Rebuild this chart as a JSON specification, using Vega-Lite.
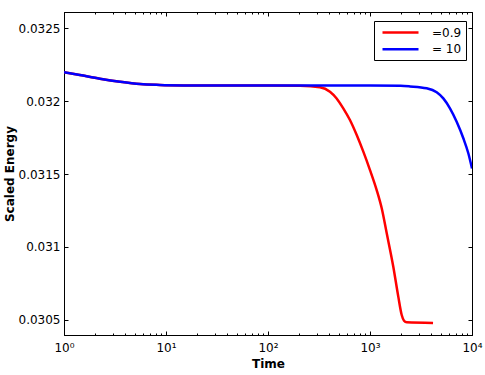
{
  "$schema": "https://vega.github.io/schema/vega-lite/v6.json",
  "width": 408,
  "height": 323,
  "autosize": {"type": "none"},
  "padding": {"left": 64, "top": 12, "right": 13, "bottom": 40},
  "background": "white",
  "config": {
    "font": "DejaVu Sans",
    "view": {"stroke": "black", "strokeWidth": 1},
    "axis": {
      "grid": false,
      "domainColor": "black",
      "tickColor": "black",
      "labelColor": "black",
      "titleColor": "black",
      "labelFontSize": 12,
      "titleFontSize": 12,
      "titleFontWeight": "bold",
      "labelFont": "DejaVu Sans",
      "titleFont": "DejaVu Sans"
    }
  },
  "data": {
    "values": [
      {"t": 1, "e": 0.032197, "s": "=0.9"},
      {"t": 1.43, "e": 0.032178, "s": "=0.9"},
      {"t": 2.25, "e": 0.032153, "s": "=0.9"},
      {"t": 3.54, "e": 0.032132, "s": "=0.9"},
      {"t": 5.56, "e": 0.032116, "s": "=0.9"},
      {"t": 8.7, "e": 0.03211, "s": "=0.9"},
      {"t": 15, "e": 0.032107, "s": "=0.9"},
      {"t": 30, "e": 0.032106, "s": "=0.9"},
      {"t": 100, "e": 0.032106, "s": "=0.9"},
      {"t": 206, "e": 0.032104, "s": "=0.9"},
      {"t": 323, "e": 0.032094, "s": "=0.9"},
      {"t": 405, "e": 0.032064, "s": "=0.9"},
      {"t": 471, "e": 0.032018, "s": "=0.9"},
      {"t": 547, "e": 0.03195, "s": "=0.9"},
      {"t": 636, "e": 0.03187, "s": "=0.9"},
      {"t": 741, "e": 0.031767, "s": "=0.9"},
      {"t": 860, "e": 0.031653, "s": "=0.9"},
      {"t": 1000, "e": 0.031527, "s": "=0.9"},
      {"t": 1163, "e": 0.03139, "s": "=0.9"},
      {"t": 1303, "e": 0.031265, "s": "=0.9"},
      {"t": 1459, "e": 0.031094, "s": "=0.9"},
      {"t": 1692, "e": 0.030865, "s": "=0.9"},
      {"t": 1894, "e": 0.03066, "s": "=0.9"},
      {"t": 2046, "e": 0.030534, "s": "=0.9"},
      {"t": 2155, "e": 0.030495, "s": "=0.9"},
      {"t": 2291, "e": 0.030484, "s": "=0.9"},
      {"t": 4150, "e": 0.03048, "s": "=0.9"},
      {"t": 1, "e": 0.032197, "s": "= 10"},
      {"t": 1.43, "e": 0.032178, "s": "= 10"},
      {"t": 2.25, "e": 0.032153, "s": "= 10"},
      {"t": 3.54, "e": 0.032132, "s": "= 10"},
      {"t": 5.56, "e": 0.032116, "s": "= 10"},
      {"t": 8.7, "e": 0.03211, "s": "= 10"},
      {"t": 15, "e": 0.032107, "s": "= 10"},
      {"t": 30, "e": 0.032106, "s": "= 10"},
      {"t": 100, "e": 0.032106, "s": "= 10"},
      {"t": 1000, "e": 0.032106, "s": "= 10"},
      {"t": 2000, "e": 0.032104, "s": "= 10"},
      {"t": 2466, "e": 0.0321, "s": "= 10"},
      {"t": 3595, "e": 0.032087, "s": "= 10"},
      {"t": 4506, "e": 0.03206, "s": "= 10"},
      {"t": 5232, "e": 0.032018, "s": "= 10"},
      {"t": 6081, "e": 0.03195, "s": "= 10"},
      {"t": 7075, "e": 0.031858, "s": "= 10"},
      {"t": 8222, "e": 0.031745, "s": "= 10"},
      {"t": 9203, "e": 0.031642, "s": "= 10"},
      {"t": 10000, "e": 0.031538, "s": "= 10"}
    ]
  },
  "layer": [
    {
      "mark": {"type": "line", "strokeWidth": 2.5, "interpolate": "monotone", "clip": true},
      "encoding": {
        "x": {
          "field": "t", "type": "quantitative",
          "scale": {"type": "log", "domain": [1, 10000], "nice": false},
          "axis": {
            "orient": "bottom",
            "title": "Time",
            "values": [1,2,3,4,5,6,7,8,9,10,20,30,40,50,60,70,80,90,100,200,300,400,500,600,700,800,900,1000,2000,3000,4000,5000,6000,7000,8000,9000,10000],
            "labelExpr": "datum.value == 1 ? '10⁰' : datum.value == 10 ? '10¹' : datum.value == 100 ? '10²' : datum.value == 1000 ? '10³' : datum.value == 10000 ? '10⁴' : ''",
            "tickSize": {"condition": {"test": "indexof([1,10,100,1000,10000], datum.value) >= 0", "value": -4}, "value": -2},
            "labelPadding": 11,
            "labelFlush": false,
            "labelOverlap": false,
            "titlePadding": 3
          }
        },
        "y": {
          "field": "e", "type": "quantitative",
          "scale": {"domain": [0.030397, 0.03261], "nice": false, "zero": false},
          "axis": {
            "orient": "left",
            "title": "Scaled Energy",
            "values": [0.0305, 0.031, 0.0315, 0.032, 0.0325],
            "format": ".4~f",
            "tickSize": -4,
            "labelPadding": 8,
            "titlePadding": 2
          }
        },
        "color": {
          "field": "s", "type": "nominal",
          "scale": {"domain": ["=0.9", "= 10"], "range": ["#ff0000", "#0000ff"]},
          "legend": {
            "title": null,
            "orient": "none",
            "legendX": 310,
            "legendY": 9,
            "symbolType": "M-0.5,0H5.5",
            "symbolSize": 144,
            "symbolStrokeWidth": 2.5,
            "labelFontSize": 12,
            "labelColor": "black",
            "labelOffset": 39,
            "padding": 4,
            "rowPadding": 2.7,
            "strokeColor": "black",
            "fillColor": "white",
            "cornerRadius": 0
          }
        }
      }
    },
    {
      "mark": {"type": "line", "opacity": 0},
      "encoding": {
        "x": {
          "field": "t", "type": "quantitative",
          "axis": {
            "orient": "top",
            "title": null,
            "labels": false,
            "values": [1,2,3,4,5,6,7,8,9,10,20,30,40,50,60,70,80,90,100,200,300,400,500,600,700,800,900,1000,2000,3000,4000,5000,6000,7000,8000,9000,10000],
            "tickSize": {"condition": {"test": "indexof([1,10,100,1000,10000], datum.value) >= 0", "value": -4}, "value": -2}
          }
        },
        "y": {
          "field": "e", "type": "quantitative",
          "axis": {
            "orient": "right",
            "title": null,
            "labels": false,
            "values": [0.0305, 0.031, 0.0315, 0.032, 0.0325],
            "tickSize": -4
          }
        },
        "detail": {"field": "s", "type": "nominal"}
      }
    }
  ],
  "resolve": {"axis": {"x": "independent", "y": "independent"}}
}
